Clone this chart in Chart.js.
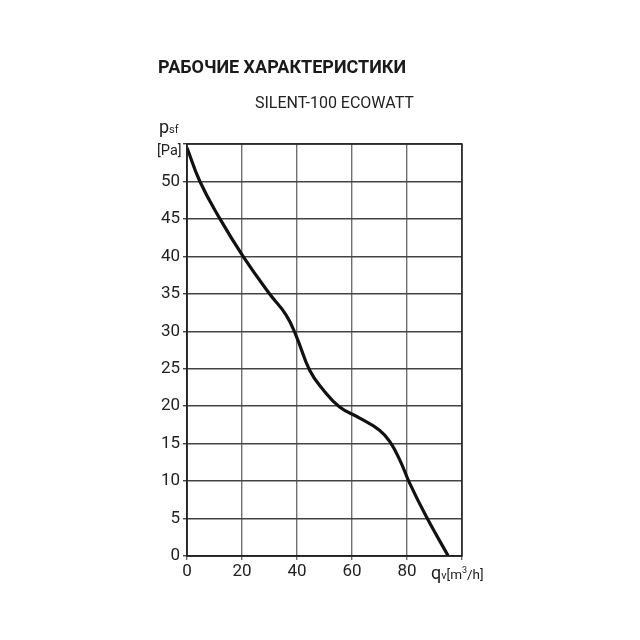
<!DOCTYPE html>
<html>
<head>
<meta charset="utf-8">
<script src="https://cdn.jsdelivr.net/npm/chart.js@4"></script>
<style>
  html, body { margin: 0; padding: 0; background: #fff; }
  #wrap { position: relative; width: 640px; height: 640px; font-family: Roboto, "DejaVu Sans", sans-serif; color: #222; }
  canvas { position: absolute; left: 0; top: 0; }
  .t { position: absolute; white-space: nowrap; }
  #title { left: 158px; top: 56px; font-size: 18px; font-weight: 700; color: #1a1a1a; }
  #sub { left: 255px; top: 93px; font-size: 16px; font-weight: 400; color: #222; }
  #ylab { left: 159px; top: 118px; font-size: 18px; line-height: 18px; }
  #ylab .s { font-size: 11px; }
  #yunit { left: 157px; top: 142px; font-size: 14.5px; }
  #xlab { left: 431px; top: 562px; font-size: 18px; }
  #xlab .s { font-size: 11px; }
  #xlab .u { font-size: 13.5px; }
  #xlab sup { font-size: 9px; vertical-align: 6px; }
</style>
</head>
<body>
<div id="wrap">
  <canvas id="c" width="640" height="640"></canvas>
  <div class="t" id="title">РАБОЧИЕ ХАРАКТЕРИСТИКИ</div>
  <div class="t" id="sub">SILENT-100 ECOWATT</div>
  <div class="t" id="ylab">p<span class="s">sf</span></div>
  <div class="t" id="yunit">[Pa]</div>
  <div class="t" id="xlab">q<span class="s">v</span><span class="u">[m<sup>3</sup>/h]</span></div>
</div>
<script>
const qValues = [0, 4.7, 12, 20.4, 30, 36, 39.8, 44.6, 49.5, 55.5, 62.8, 70, 73.7, 77.4, 81, 87.1, 95];
const pValues = [54.5, 50, 45, 40, 35, 32.2, 29.3, 24.8, 22.2, 19.9, 18.4, 16.8, 15.3, 12.8, 9.7, 5.2, 0];
const xTickLabels = [0, 20, 40, 60, 80];
const yTickLabels = [0, 5, 10, 15, 20, 25, 30, 35, 40, 45, 50];

const points = qValues.map((q, i) => ({ x: q, y: pValues[i] }));

new Chart(document.getElementById('c'), {
  type: 'scatter',
  data: {
    datasets: [{
      data: points,
      showLine: true,
      borderColor: '#111',
      borderWidth: 3.2,
      pointRadius: 0,
      tension: 0.45,
      fill: false
    }]
  },
  options: {
    responsive: false,
    animation: false,
    devicePixelRatio: 1,
    layout: { padding: { top: 144, right: 178, bottom: 0, left: 0 } },
    plugins: { legend: { display: false }, tooltip: { enabled: false } },
    scales: {
      x: {
        type: 'linear', min: 0, max: 100,
        afterFit: s => { s.height = 84; },
        ticks: {
          stepSize: 20, color: '#222', padding: 2,
          font: { family: 'Roboto', size: 17 },
          callback: v => xTickLabels.includes(v) ? String(v) : ''
        },
        grid: { color: '#707070', lineWidth: 1.4, tickLength: 4, drawTicks: true },
        border: { color: '#222', width: 1.5 }
      },
      y: {
        type: 'linear', min: 0, max: 55,
        afterFit: s => { s.width = 187; },
        ticks: {
          stepSize: 5, color: '#222', padding: 3,
          font: { family: 'Roboto', size: 17 },
          callback: v => yTickLabels.includes(v) ? String(v) : ''
        },
        grid: { color: '#444', lineWidth: 1.4, tickLength: 4, drawTicks: true },
        border: { color: '#222', width: 1.5 }
      }
    }
  },
  plugins: [{
    id: 'frame',
    afterDraw(chart) {
      const { ctx, chartArea: a } = chart;
      ctx.save();
      ctx.strokeStyle = '#222';
      ctx.lineWidth = 1.5;
      ctx.strokeRect(a.left, a.top, a.right - a.left, a.bottom - a.top);
      ctx.restore();
    }
  }]
});
</script>
</body>
</html>
